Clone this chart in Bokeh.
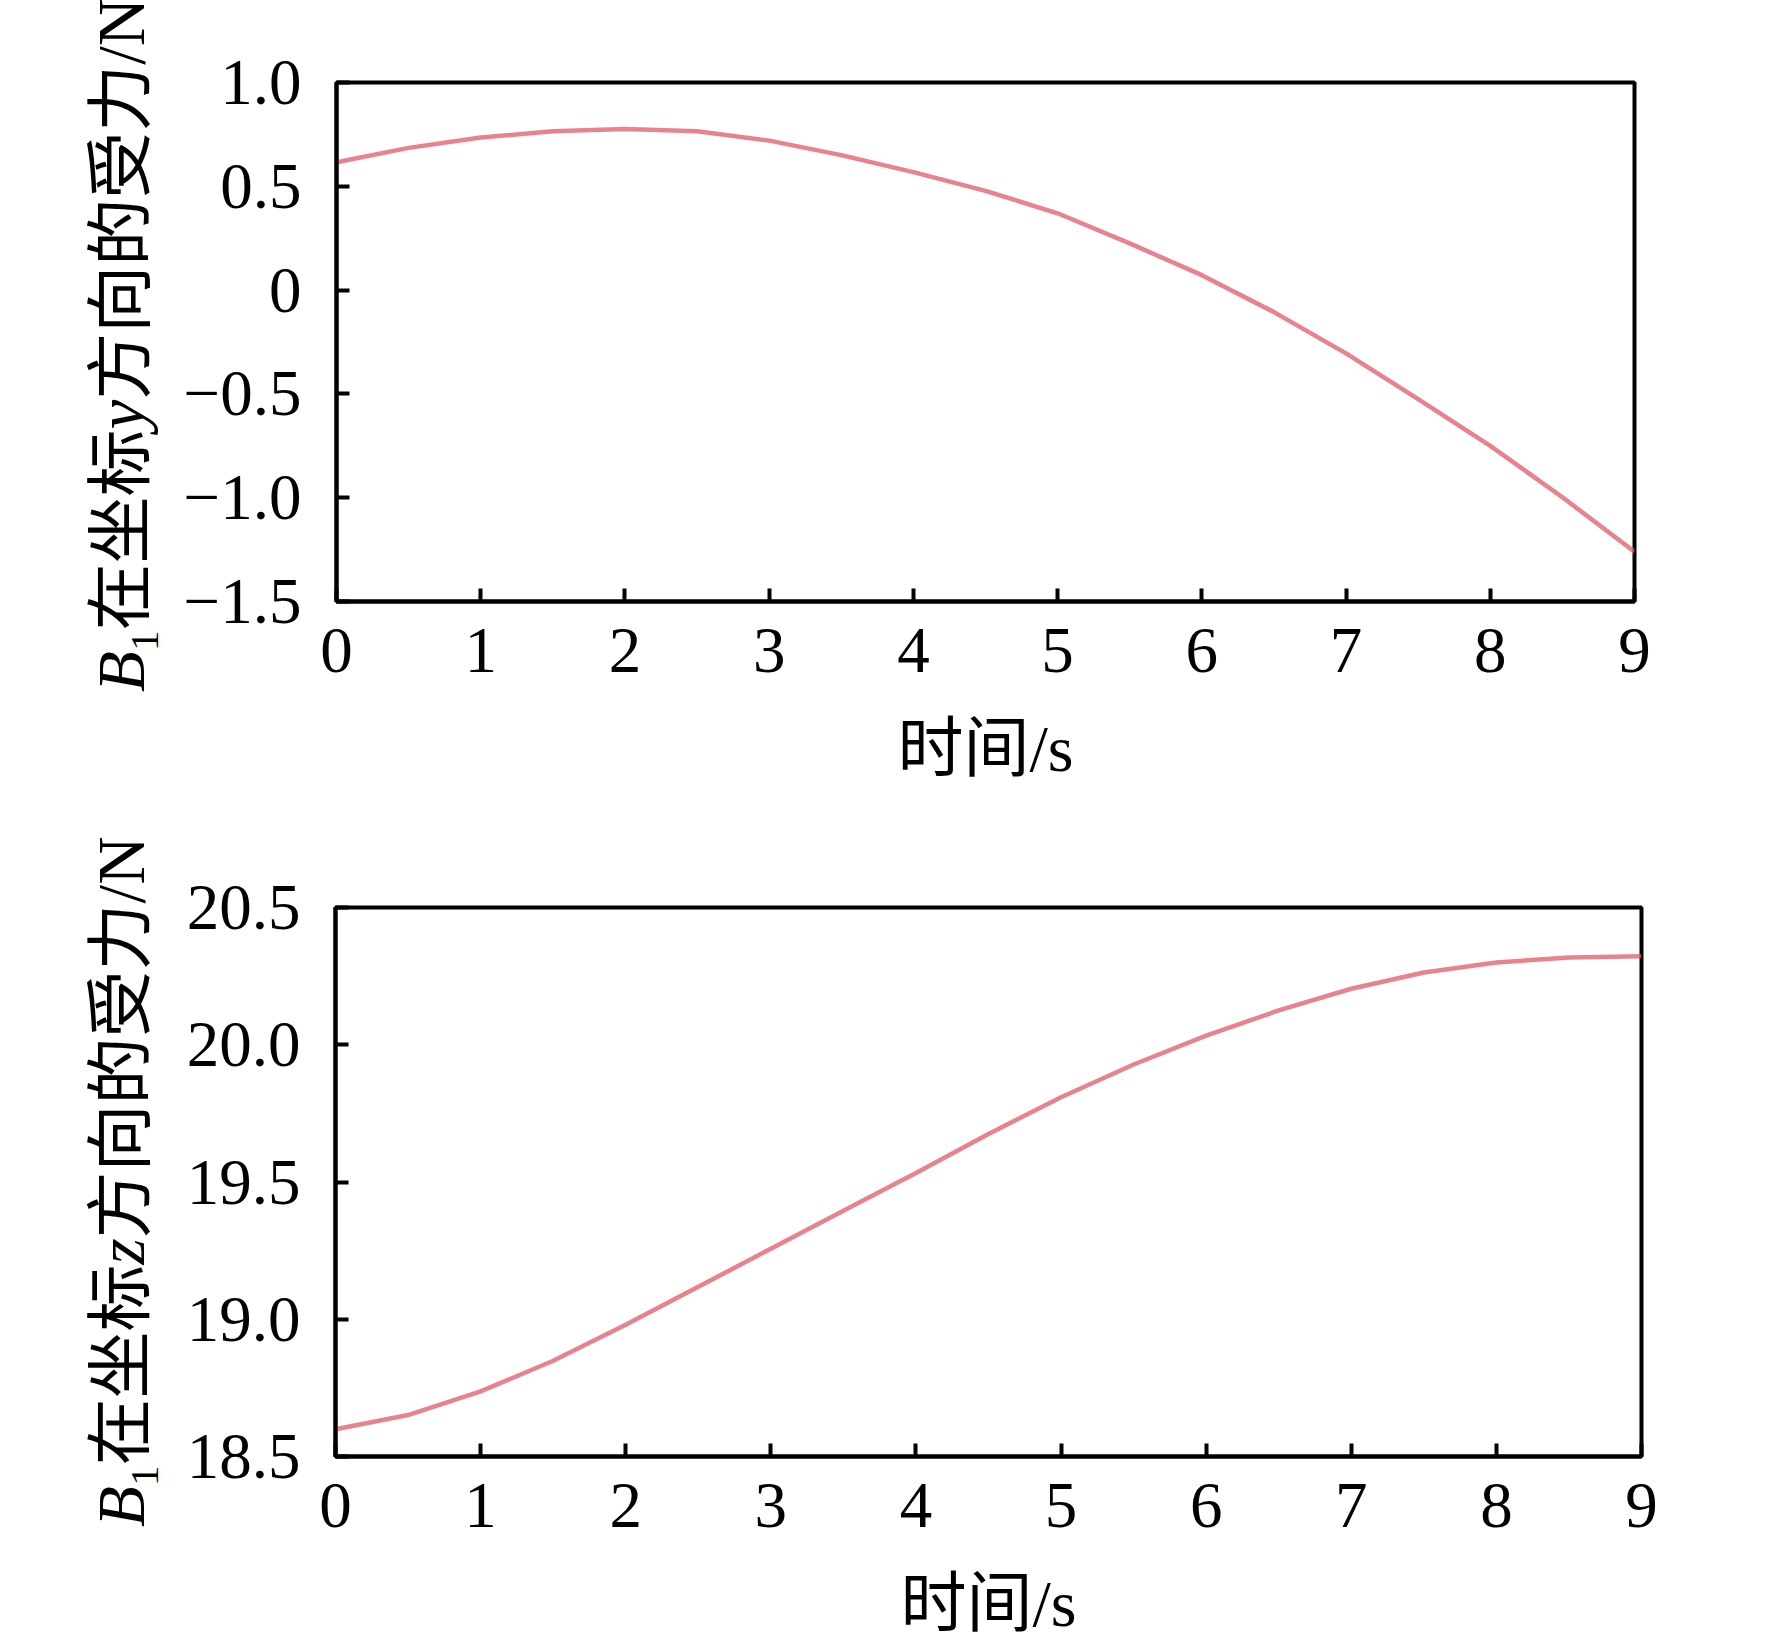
from bokeh.plotting import figure
from bokeh.layouts import column, row
from bokeh.models import Range1d, FixedTicker, CustomJSTickFormatter, Div
from bokeh.embed import file_html
from bokeh.resources import INLINE

# ---------------- data ----------------
time_s = [0, 0.5, 1, 1.5, 2, 2.5, 3, 3.5, 4, 4.5, 5, 5.5, 6, 6.5, 7, 7.5, 8, 8.5, 9]
force_y = [0.616, 0.685, 0.735, 0.765, 0.776, 0.765, 0.720, 0.650, 0.568, 0.478, 0.370,
           0.225, 0.072, -0.106, -0.305, -0.525, -0.750, -0.998, -1.260]
force_z = [18.599, 18.651, 18.737, 18.849, 18.980, 19.118, 19.257, 19.395, 19.533, 19.675,
           19.809, 19.928, 20.033, 20.125, 20.204, 20.263, 20.300, 20.318, 20.322]

x_ticks = [0, 1, 2, 3, 4, 5, 6, 7, 8, 9]
y_ticks_top = [-1.5, -1.0, -0.5, 0, 0.5, 1.0]
y_labels_top = ["\u22121.5", "\u22121.0", "\u22120.5", "0", "0.5", "1.0"]
y_ticks_bot = [18.5, 19.0, 19.5, 20.0, 20.5]
y_labels_bot = ["18.5", "19.0", "19.5", "20.0", "20.5"]

x_title = "时间/s"
# y-axis titles: (text, style) runs
y_title_top = [("B", "italic"), ("1", "sub"), ("在坐标", "normal"), ("y", "italic"),
               ("方向的受力/N", "normal")]
y_title_bot = [("B", "italic"), ("1", "sub"), ("在坐标", "normal"), ("z", "italic"),
               ("方向的受力/N", "normal")]

# ---------------- styling ----------------
SERIF = "Liberation Serif"
CJK = "Noto Sans CJK SC"
TICK_SIZE = 65
TITLE_SIZE = 66
YTITLE_SIZE = 67
SUB_SIZE = 41
LINE_COLOR = "#e05a68"
TITLE_W = 170


def make_title_div(height, runs, start_y, left_x):
    parts = []
    for text, kind in runs:
        if kind == "italic":
            parts.append(f"<i>{text}</i>")
        elif kind == "sub":
            parts.append(f"<span style=\"font-size:{SUB_SIZE}px; position:relative; top:14px;\">{text}</span>")
        else:
            parts.append(text)
    inner = "".join(parts)
    html = (f"<div style=\"position:absolute; left:{left_x}px; top:{start_y}px; "
            f"transform-origin:0 0; transform:rotate(-90deg); white-space:nowrap; "
            f"font-family:'{SERIF}','{CJK}'; font-size:{YTITLE_SIZE}px; line-height:1; "
            f"color:black;\">{inner}</div>")
    return Div(text=html, width=TITLE_W, height=height, margin=0,
               styles={"position": "relative", "overflow": "visible"})


def make_fig(y_start, y_end, yticks, ylabels, series, height, border_top, border_bottom,
             border_left, frame_w):
    width = 1600
    p = figure(width=width, height=height,
               x_range=Range1d(0, 9), y_range=Range1d(y_start, y_end),
               output_backend="svg", toolbar_location=None,
               min_border_left=border_left, min_border_right=width - border_left - frame_w,
               min_border_top=border_top, min_border_bottom=border_bottom)
    p.background_fill_color = "white"
    p.border_fill_color = "white"
    p.grid.visible = False
    p.outline_line_color = "black"
    p.outline_line_width = 4
    p.outline_line_alpha = 1

    for ax in (p.xaxis[0], p.yaxis[0]):
        ax.axis_line_width = 4
        ax.axis_line_color = "black"
        ax.major_tick_line_width = 4
        ax.major_tick_line_color = "black"
        ax.major_tick_in = 13
        ax.major_tick_out = 0
        ax.minor_tick_line_color = None
        ax.major_label_text_font = SERIF
        ax.major_label_text_font_size = f"{TICK_SIZE}px"
        ax.major_label_text_color = "black"

    p.xaxis[0].ticker = FixedTicker(ticks=x_ticks)
    p.xaxis[0].major_label_standoff = 27
    p.xaxis[0].axis_label = x_title
    p.xaxis[0].axis_label_text_font = f"'{SERIF}', '{CJK}'"
    p.xaxis[0].axis_label_text_font_style = "normal"
    p.xaxis[0].axis_label_text_font_size = f"{TITLE_SIZE}px"
    p.xaxis[0].axis_label_text_color = "black"
    p.xaxis[0].axis_label_standoff = 37

    p.yaxis[0].ticker = FixedTicker(ticks=yticks)
    p.yaxis[0].major_label_standoff = 35
    p.yaxis[0].formatter = CustomJSTickFormatter(args=dict(tvals=yticks, tlabels=ylabels), code="""
        let best = 0, d = 1e9;
        for (let i = 0; i < tvals.length; i++) {
            const e = Math.abs(tvals[i] - tick);
            if (e < d) { d = e; best = i; }
        }
        return tlabels[best];
    """)

    p.line(time_s, series, line_color=LINE_COLOR, line_width=4.5, line_alpha=0.75)
    return p


H1, H2 = 840, 807
t1 = make_title_div(H1, y_title_top, start_y=692, left_x=88)
p1 = make_fig(-1.5, 1.0, y_ticks_top, y_labels_top, force_y, H1,
              border_top=82, border_bottom=H1 - 82 - 519, border_left=336 - TITLE_W, frame_w=1298)
t2 = make_title_div(H2, y_title_bot, start_y=1527 - H1, left_x=88)
p2 = make_fig(18.5, 20.5, y_ticks_bot, y_labels_bot, force_z, H2,
              border_top=907 - H1, border_bottom=H2 - (907 - H1) - 549, border_left=335 - TITLE_W,
              frame_w=1306)

layout = column(row(t1, p1, spacing=0), row(t2, p2, spacing=0), spacing=0)
open("out.html", "w").write(file_html(layout, INLINE))
